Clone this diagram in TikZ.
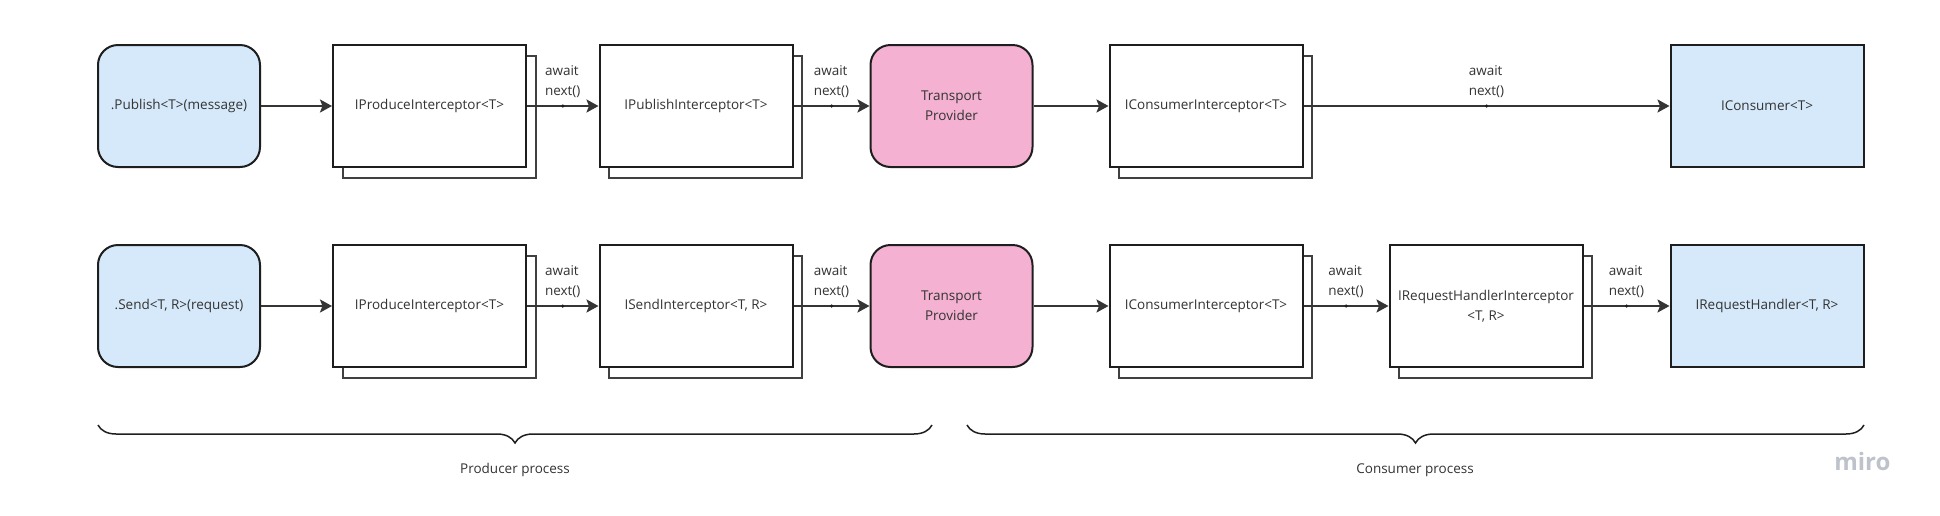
\documentclass[tikz,border=0pt]{standalone}
\usepackage{fontspec}
\setmainfont{Open Sans}
\usetikzlibrary{arrows.meta,shadows,decorations.pathreplacing}
\definecolor{callblue}{RGB}{214,233,250}
\definecolor{trpink}{RGB}{244,177,210}
\definecolor{edge}{RGB}{30,30,30}
\definecolor{txt}{RGB}{51,51,51}
\definecolor{logo}{RGB}{190,194,202}
\begin{document}
\begin{tikzpicture}[x=1pt,y=-1pt,
        font=\fontsize{13.5}{20}\selectfont, text=txt,
        call/.style={draw=edge,rectangle,rounded corners=20pt,fill=callblue,line width=2pt,minimum width=162pt,minimum height=122pt,align=center},
        trans/.style={call,fill=trpink},
        icpt/.style={draw=edge,rectangle,fill=white,line width=2pt,minimum width=193pt,minimum height=122pt,align=center,
          copy shadow={shadow xshift=9.5pt,shadow yshift=-10.5pt,fill=white,draw=edge!85,line width=2pt}},
        hndl/.style={draw=edge,rectangle,fill=callblue,line width=2pt,minimum width=193pt,minimum height=122pt,align=center},
        flow/.style={draw=edge!90,line width=2.2pt,-{Stealth[length=12pt,width=13pt,inset=2.5pt]}},
        nxt/.style={above=6.5pt,inner sep=1pt,align=left},
        dot/.style={circle,fill=edge,inner sep=0pt,minimum size=3.5pt},
        brc/.style={draw=edge,line width=1.5pt,decorate,decoration={brace,mirror,amplitude=18pt}}
      ]
      \useasboundingbox (0,0) rectangle (1940,515);
      % publish chain
      \node[call] (pub) at (179,106) {.Publish<T>(message)};
      \node[icpt] (prod1) at (429.5,106) {IProduceInterceptor<T>};
      \node[icpt] (pubi) at (696,106) {IPublishInterceptor<T>};
      \node[trans] (tp1) at (951.5,106) {Transport\\Provider};
      \node[icpt] (cons1) at (1206,106) {IConsumerInterceptor<T>};
      \node[hndl] (cons) at (1767,106) {IConsumer<T>};
      % send chain
      \node[call] (snd) at (179,306) {.Send<T, R>(request)};
      \node[icpt] (prod2) at (429.5,306) {IProduceInterceptor<T>};
      \node[icpt] (sndi) at (696,306) {ISendInterceptor<T, R>};
      \node[trans] (tp2) at (951.5,306) {Transport\\Provider};
      \node[icpt] (cons2) at (1206,306) {IConsumerInterceptor<T>};
      \node[icpt] (rhi) at (1486,306) {IRequestHandlerInterceptor\\<T, R>};
      \node[hndl] (rh) at (1767,306) {IRequestHandler<T, R>};
      % arrows
      \draw[flow] (pub) -- (prod1);
      \draw[flow] (prod1) -- node[dot]{} node[nxt]{await\\next()} (pubi);
      \draw[flow] (pubi) -- node[dot]{} node[nxt]{await\\next()} (tp1);
      \draw[flow] (tp1) -- (cons1);
      \draw[flow] (cons1) -- node[dot]{} node[nxt]{await\\next()} (cons);
      \draw[flow] (snd) -- (prod2);
      \draw[flow] (prod2) -- node[dot]{} node[nxt]{await\\next()} (sndi);
      \draw[flow] (sndi) -- node[dot]{} node[nxt]{await\\next()} (tp2);
      \draw[flow] (tp2) -- (cons2);
      \draw[flow] (cons2) -- node[dot]{} node[nxt]{await\\next()} (rhi);
      \draw[flow] (rhi) -- node[dot]{} node[nxt]{await\\next()} (rh);
      % processes
      \draw[brc] (98,425) -- (932,425);
      \draw[brc] (967,425) -- (1864,425);
      \node (prodlbl) at (515,470) {Producer process};
      \node (conslbl) at (1415,470) {Consumer process};
      \node[text=logo,font=\fontsize{24}{24}\selectfont\bfseries,anchor=base east] (miro) at (1894,470) {miro};
    \end{tikzpicture}
\end{document}
